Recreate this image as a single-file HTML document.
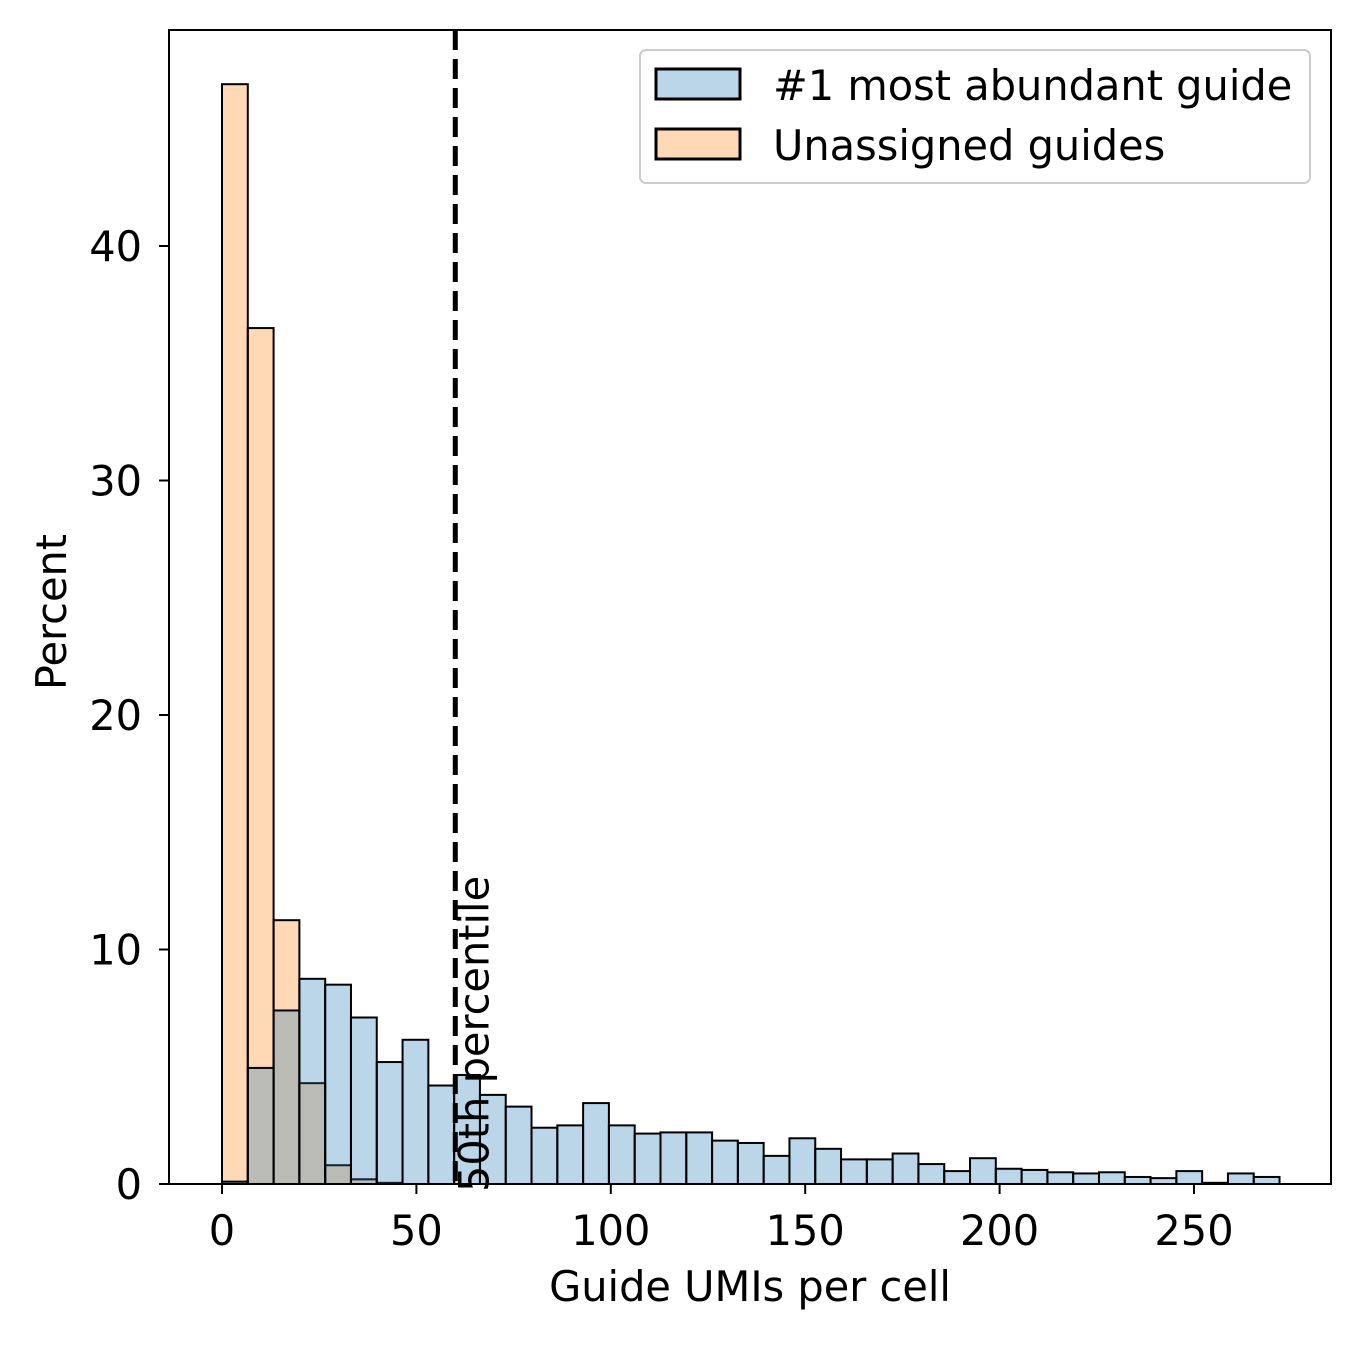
<!DOCTYPE html>
<html><head><meta charset="utf-8"><style>
body{margin:0;background:#fff}
svg text{font-family:"DejaVu Sans","Liberation Sans",sans-serif;fill:#000}
</style></head><body>
<svg id="chart" width="1361" height="1340" xmlns="http://www.w3.org/2000/svg">
<g id="bars"></g>
<g id="axes"></g>
</svg>
<script>
const binCount = 41;
const binMax = 272;
const blueValues = [0.1,4.95,7.4,8.75,8.5,7.1,5.2,6.15,4.2,4.65,3.8,3.3,2.4,2.5,3.45,2.5,2.15,2.2,2.2,1.85,1.75,1.2,1.95,1.5,1.05,1.05,1.3,0.85,0.55,1.1,0.65,0.6,0.5,0.45,0.5,0.3,0.25,0.55,0.05,0.45,0.3];
const orangeValues = [46.9,36.5,11.25,4.3,0.8,0.2,0.05];
const xTicks = [0,50,100,150,200,250];
const yTicks = [0,10,20,30,40];
const percentileValue = 60;

const NS="http://www.w3.org/2000/svg";
const FS=41.5;
const X=v=>222+v*3.888;
const Y=v=>1184-v*23.45;
function el(tag,attrs,parent,text){const e=document.createElementNS(NS,tag);for(const k in attrs)e.setAttribute(k,attrs[k]);if(text!==undefined)e.textContent=text;parent.appendChild(e);return e;}
const bars=document.getElementById('bars'), axes=document.getElementById('axes');
const bw=binMax/binCount;
orangeValues.forEach((v,i)=>{
  const r=el('rect',{x:X(i*bw),y:Y(v),width:X((i+1)*bw)-X(i*bw),height:Y(0)-Y(v),fill:'#ff7f0e','fill-opacity':0.3,stroke:'#000','stroke-width':2},bars);
  
  
});
blueValues.forEach((v,i)=>{
  const r=el('rect',{x:X(i*bw),y:Y(v),width:X((i+1)*bw)-X(i*bw),height:Y(0)-Y(v),fill:'#1f77b4','fill-opacity':0.3,stroke:'#000','stroke-width':2},bars);
  
  
});
const pl=el('line',{x1:X(percentileValue),x2:X(percentileValue),y1:30,y2:1184,stroke:'#000','stroke-width':5,'stroke-dasharray':'20,9'},axes);


const pt=el('text',{x:0,y:0,'font-size':FS,transform:`translate(${X(percentileValue)+33},1192) rotate(-90)`},axes,'50th percentile');


const fr=el('rect',{x:169,y:30,width:1162,height:1154,fill:'none',stroke:'#000','stroke-width':2},axes);


xTicks.forEach(t=>{
  el('line',{x1:X(t),x2:X(t),y1:1184,y2:1194,stroke:'#000','stroke-width':2},axes);
  const tx=el('text',{x:X(t),y:1245,'font-size':FS,'text-anchor':'middle'},axes,String(t));
  
  
});
yTicks.forEach(t=>{
  el('line',{x1:159,x2:169,y1:Y(t),y2:Y(t),stroke:'#000','stroke-width':2},axes);
  const tx=el('text',{x:142,y:Y(t)+15,'font-size':FS,'text-anchor':'end'},axes,String(t));
  
  
});
const xt=el('text',{x:750,y:1301,'font-size':FS,'text-anchor':'middle'},axes,'Guide UMIs per cell');


const yt=el('text',{x:0,y:0,'font-size':FS,'text-anchor':'middle',transform:'translate(66,612) rotate(-90)'},axes,'Percent');


const lg=el('g',{},axes);


el('rect',{x:640,y:50,width:670,height:133,rx:6,fill:'#fff','fill-opacity':0.8,stroke:'#ccc','stroke-width':2},lg);
el('rect',{x:656,y:69,width:84,height:30,fill:'#1f77b4','fill-opacity':0.3,stroke:'#000','stroke-width':3},lg);
el('rect',{x:656,y:129,width:84,height:30,fill:'#ff7f0e','fill-opacity':0.3,stroke:'#000','stroke-width':3},lg);
const l1=el('text',{x:773,y:100,'font-size':FS},lg,'#1 most abundant guide');


const l2=el('text',{x:773,y:160,'font-size':FS},lg,'Unassigned guides');


</script>
</body></html>
